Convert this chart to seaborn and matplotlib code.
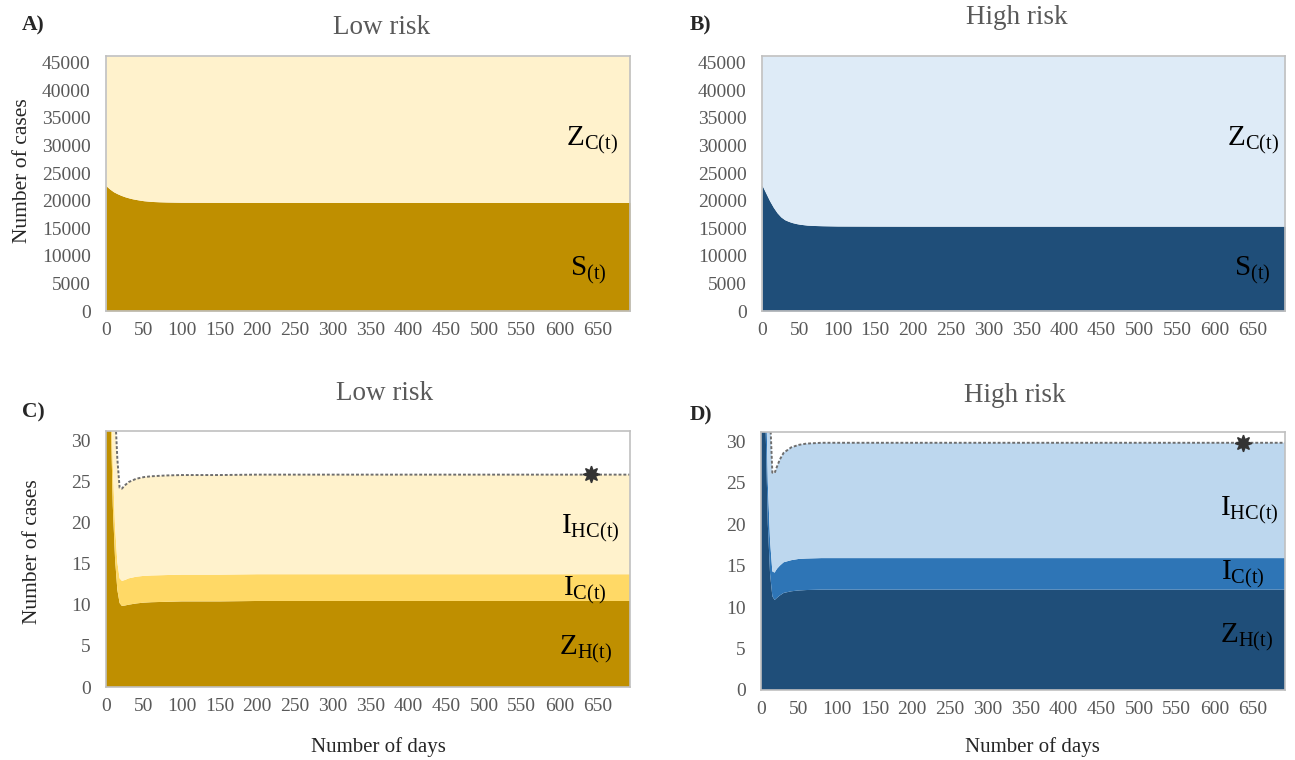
import numpy as np
import matplotlib
matplotlib.use("Agg")
import matplotlib.pyplot as plt
import seaborn as sns

# panels A / B : susceptible vs. removed (Z_C)
days_ab = [0, 5, 10, 15, 20, 25, 30, 35, 40, 45, 50, 60, 70, 80, 100, 150, 200, 300, 400, 500, 600, 693]
s_low = [22700, 22100, 21600, 21250, 20950, 20700, 20500, 20330, 20200, 20080, 19980, 19850,
         19790, 19750, 19700, 19680, 19670, 19670, 19670, 19670, 19670, 19670]
zc_low = [23500, 24100, 24600, 24950, 25250, 25500, 25700, 25870, 26000, 26120, 26220, 26350,
          26410, 26450, 26500, 26520, 26530, 26530, 26530, 26530, 26530, 26530]
s_high = [22800, 21400, 20000, 18800, 17800, 17050, 16550, 16250, 16020, 15850, 15720, 15560,
          15490, 15450, 15400, 15380, 15370, 15370, 15370, 15370, 15370, 15370]
zc_high = [23400, 24800, 26200, 27400, 28400, 29150, 29650, 29950, 30180, 30350, 30480, 30640,
           30710, 30750, 30800, 30820, 30830, 30830, 30830, 30830, 30830, 30830]

# panels C / D : stacked Z_H, I_C, I_HC
days_cd = [0, 3, 6, 9, 12, 15, 18, 21, 25, 30, 40, 50, 60, 80, 100, 150, 200, 300, 400, 500, 600, 693]
zh_low = [95, 60, 34, 22, 15.5, 11.8, 10.2, 9.85, 9.9, 10.0, 10.15, 10.25, 10.3, 10.35, 10.4,
          10.4, 10.45, 10.45, 10.45, 10.45, 10.45, 10.45]
ic_low = [20, 12, 7, 5, 4, 3.4, 3.0, 3.05, 3.1, 3.2, 3.25, 3.25, 3.25, 3.25, 3.25,
          3.25, 3.25, 3.25, 3.25, 3.25, 3.25, 3.25]
ihc_low = [40, 30, 22, 17, 14, 12.5, 11.0, 11.2, 11.5, 11.7, 11.9, 12.0, 12.05, 12.1, 12.1,
           12.1, 12.1, 12.1, 12.1, 12.1, 12.1, 12.1]
zh_high = [95, 60, 32, 20, 14, 11.3, 10.85, 11.1, 11.4, 11.7, 11.9, 12.0, 12.05, 12.1, 12.1,
           12.1, 12.1, 12.1, 12.1, 12.1, 12.1, 12.1]
ic_high = [20, 12, 7, 5, 4, 3.0, 3.3, 3.5, 3.6, 3.7, 3.75, 3.8, 3.8, 3.8, 3.8,
           3.8, 3.8, 3.8, 3.8, 3.8, 3.8, 3.8]
ihc_high = [40, 30, 22, 18, 15, 11.9, 12.0, 12.3, 12.8, 13.2, 13.6, 13.75, 13.85, 13.9, 13.9,
            13.9, 13.9, 13.9, 13.9, 13.9, 13.9, 13.9]

star_low = (642, 25.9)
star_high = (638, 29.8)

x_ticks = list(range(0, 651, 50))
ab_yticks = list(range(0, 45001, 5000))
cd_yticks = list(range(0, 31, 5))

gold_dark, gold_mid, gold_light = "#BF8F00", "#FFD966", "#FFF2CC"
blue_dark, blue_mid, blue_light, blue_pale = "#1F4E79", "#2E75B6", "#BDD7EE", "#DEEBF7"

sns.set_theme(style="white")
plt.rcParams["font.family"] = ["Liberation Serif", "DejaVu Serif"]
plt.rcParams["mathtext.fontset"] = "custom"
plt.rcParams["mathtext.rm"] = "Liberation Serif"
plt.rcParams["mathtext.it"] = "Liberation Serif:italic"

W, H = 1295, 760
fig = plt.figure(figsize=(W / 100, H / 100), dpi=100)


def box(left, top, right, bottom):
    return [left / W, 1 - bottom / H, (right - left) / W, (bottom - top) / H]


def fx(x):
    return x / W


def fy(y):
    return 1 - y / H


def style(ax, ylim, yticks):
    ax.set_xlim(0, 693)
    ax.set_ylim(*ylim)
    ax.set_xticks(x_ticks)
    ax.set_yticks(yticks)
    ax.tick_params(axis="x", length=0, pad=8, labelsize=14, labelcolor="#595959")
    ax.tick_params(axis="y", length=0, pad=11, labelsize=14, labelcolor="#595959")
    for sp in ax.spines.values():
        sp.set_color("#C0C0C0")
        sp.set_linewidth(1.2)
    ax.set_xlabel("")
    ax.set_ylabel("")


def label(x, y, txt):
    fig.text(fx(x), fy(y), txt, ha="center", va="center", fontsize=21, color="black")


# A and B
for rect, s, zc, cols in [
    (box(106, 56, 630, 311), s_low, zc_low, (gold_dark, gold_light)),
    (box(762, 56, 1285, 311), s_high, zc_high, (blue_dark, blue_pale)),
]:
    ax = fig.add_axes(rect)
    ax.stackplot(days_ab, s, zc, colors=cols, linewidth=0)
    style(ax, (0, 46200), ab_yticks)

# C and D
for rect, layers, cols, star in [
    (box(106, 431, 630, 687), (zh_low, ic_low, ihc_low), (gold_dark, gold_mid, gold_light), star_low),
    (box(761, 432, 1285, 690), (zh_high, ic_high, ihc_high), (blue_dark, blue_mid, blue_light), star_high),
]:
    ax = fig.add_axes(rect)
    ax.stackplot(days_cd, *layers, colors=cols, linewidth=0)
    total = np.sum(layers, axis=0)
    sns.lineplot(x=days_cd, y=total, ax=ax, color="#6e6e6e", lw=1.4,
                 linestyle=(0, (1.5, 1)))
    ax.plot(*star, marker=(8, 1, 0), markersize=12, color="#333333", linestyle="none")
    style(ax, (0, 31.1), cd_yticks)

# titles
title_kw = dict(ha="center", va="center", fontsize=19.5, color="#595959")
fig.text(fx(382), fy(28), "Low risk", **title_kw)
fig.text(fx(1017), fy(18), "High risk", **title_kw)
fig.text(fx(385), fy(393), "Low risk", **title_kw)
fig.text(fx(1015), fy(395), "High risk", **title_kw)

# panel letters
for x, y, t in [(22, 25, "A)"), (690, 25, "B)"), (22, 412, "C)"), (690, 415, "D)")]:
    fig.text(fx(x), fy(y), t, ha="left", va="center", fontsize=15.5, fontweight="bold")

# axis labels
fig.text(fx(22.5), fy(171), "Number of cases", rotation=90, ha="center", va="center", fontsize=15.5)
fig.text(fx(32.5), fy(552), "Number of cases", rotation=90, ha="center", va="center", fontsize=15.5)
fig.text(fx(378), fy(747), "Number of days", ha="center", va="center", fontsize=15)
fig.text(fx(1032), fy(747), "Number of days", ha="center", va="center", fontsize=15)

# compartment labels
label(592, 140, r"$\mathrm{Z_{C(t)}}$")
label(588, 270, r"$\mathrm{S_{(t)}}$")
label(1253, 140, r"$\mathrm{Z_{C(t)}}$")
label(1252, 270, r"$\mathrm{S_{(t)}}$")
label(590, 528, r"$\mathrm{I_{HC(t)}}$")
label(585, 590, r"$\mathrm{I_{C(t)}}$")
label(586, 649, r"$\mathrm{Z_{H(t)}}$")
label(1249, 510, r"$\mathrm{I_{HC(t)}}$")
label(1243, 574, r"$\mathrm{I_{C(t)}}$")
label(1247, 637, r"$\mathrm{Z_{H(t)}}$")

fig.savefig("out.png", dpi=100)
